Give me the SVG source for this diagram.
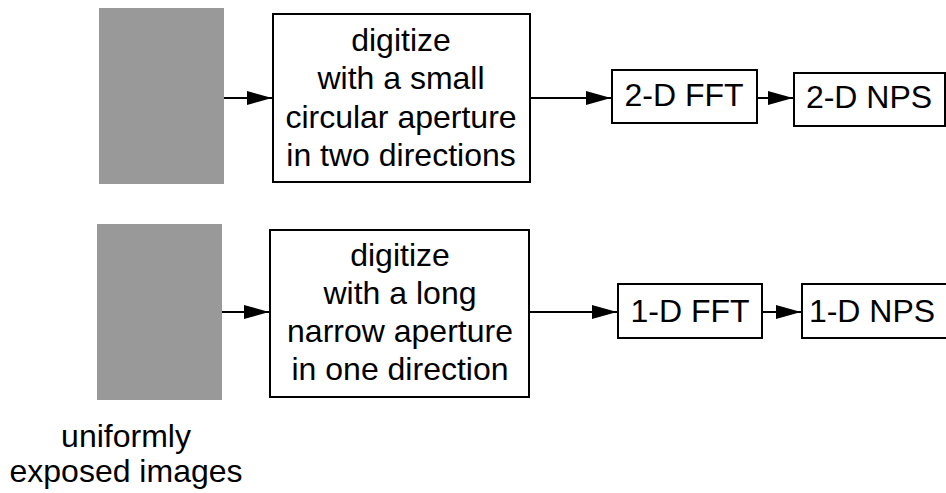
<svg xmlns="http://www.w3.org/2000/svg" width="946" height="493" viewBox="0 0 946 493">
<style>
.box{fill:#fff;stroke:#000;stroke-width:2}
.img{fill:#999;stroke:none}
text{font-family:"Liberation Sans",Arial,sans-serif;font-size:32px;fill:#000;text-anchor:middle}
.conn{stroke:#000;stroke-width:2;fill:none;marker-end:url(#ah)}
</style>
<defs>
<marker id="ah" markerUnits="userSpaceOnUse" markerWidth="26" markerHeight="16" refX="25" refY="7" orient="auto">
<path d="M0,0 L25,7 L0,14 Z" fill="#000"/>
</marker>
</defs>
<rect width="946" height="493" fill="#fff"/>
<g id="img1"><rect class="img" x="99" y="8" width="125" height="176"/></g>
<g id="img2"><rect class="img" x="97" y="224" width="125" height="176"/></g>
<g id="label"><text x="126" y="447">uniformly</text><text x="126" y="482">exposed images</text></g>
<g id="dig1"><rect class="box" x="273" y="14" width="257" height="168"/>
<text x="401" y="51">digitize</text><text x="401" y="89">with a small</text><text x="401" y="128">circular aperture</text><text x="401" y="166">in two directions</text></g>
<g id="dig2"><rect class="box" x="270" y="230" width="259" height="167"/>
<text x="400" y="266">digitize</text><text x="400" y="304">with a long</text><text x="400" y="342">narrow aperture</text><text x="400" y="380">in one direction</text></g>
<g id="fft2"><rect class="box" x="612" y="70" width="145" height="53"/><text x="684" y="106">2-D FFT</text></g>
<g id="nps2"><rect class="box" x="794" y="73" width="151" height="53"/><text x="869" y="108">2-D NPS</text></g>
<g id="fft1"><rect class="box" x="618" y="284" width="144" height="54"/><text x="690" y="322">1-D FFT</text></g>
<g id="nps1"><rect class="box" x="802" y="284" width="150" height="54"/><text x="872" y="322">1-D NPS</text></g>
<g id="connectors">
<path class="conn" d="M224,98 H272"/>
<path class="conn" d="M530,98 H611"/>
<path class="conn" d="M757,98 H793"/>
<path class="conn" d="M222,312 H269"/>
<path class="conn" d="M529,312 H617"/>
<path class="conn" d="M762,312 H801"/>
</g>
</svg>
